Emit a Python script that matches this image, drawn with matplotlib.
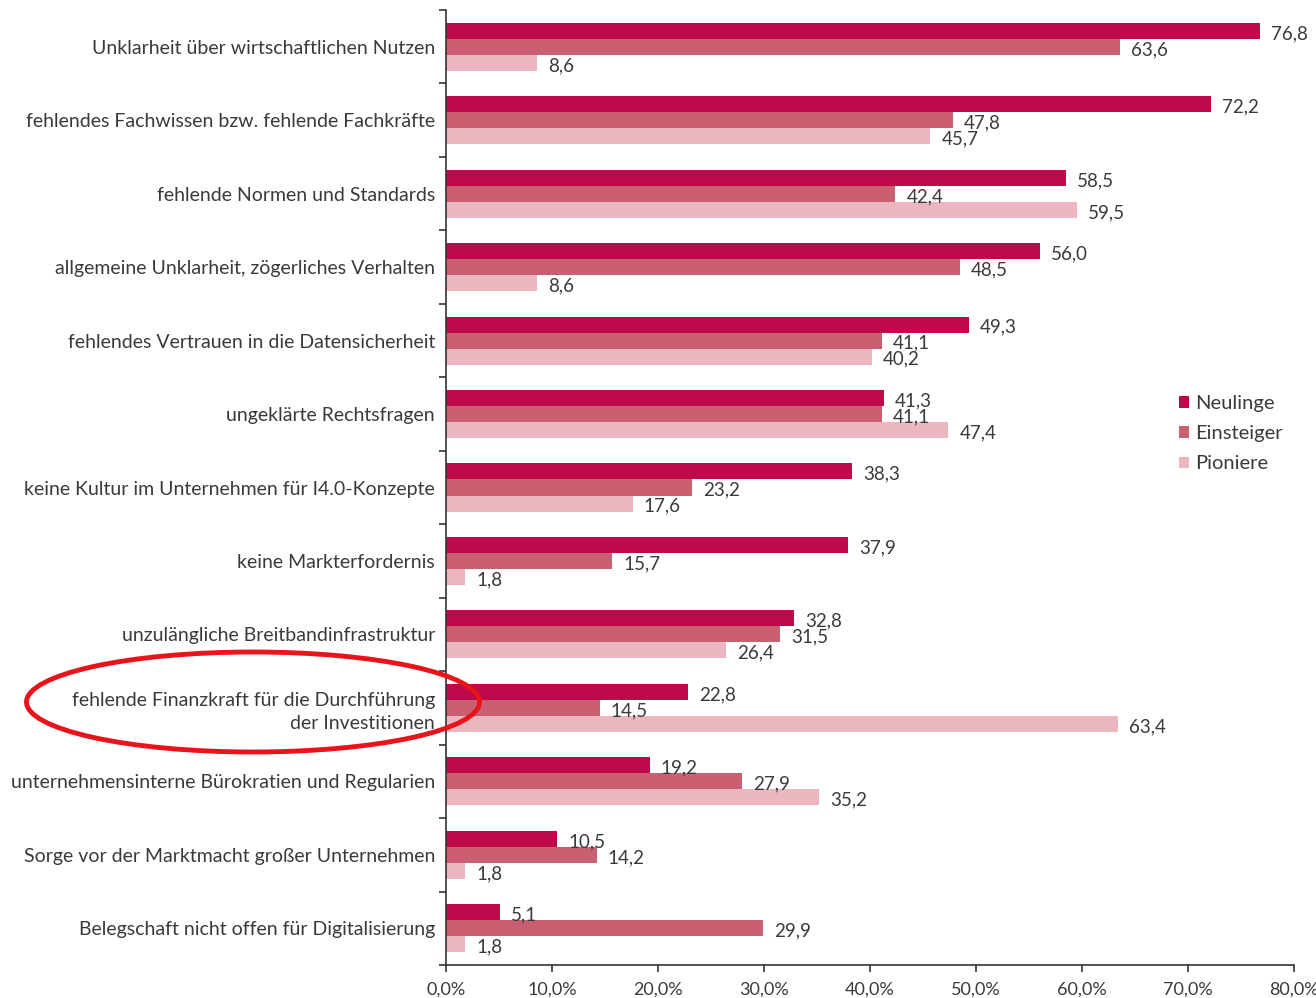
import numpy as np
import matplotlib.pyplot as plt
from matplotlib.patches import Ellipse
from matplotlib.ticker import FuncFormatter

plt.rcParams['font.family'] = ['Lato', 'DejaVu Sans']

kategorien = [
    'Unklarheit über wirtschaftlichen Nutzen',
    'fehlendes Fachwissen bzw. fehlende Fachkräfte',
    'fehlende Normen und Standards',
    'allgemeine Unklarheit, zögerliches Verhalten',
    'fehlendes Vertrauen in die Datensicherheit',
    'ungeklärte Rechtsfragen',
    'keine Kultur im Unternehmen für I4.0-Konzepte',
    'keine Markterfordernis',
    'unzulängliche Breitbandinfrastruktur',
    'fehlende Finanzkraft für die Durchführung\nder Investitionen',
    'unternehmensinterne Bürokratien und Regularien',
    'Sorge vor der Marktmacht großer Unternehmen',
    'Belegschaft nicht offen für Digitalisierung',
]
neulinge = [76.8, 72.2, 58.5, 56.0, 49.3, 41.3, 38.3, 37.9, 32.8, 22.8, 19.2, 10.5, 5.1]
einsteiger = [63.6, 47.8, 42.4, 48.5, 41.1, 41.1, 23.2, 15.7, 31.5, 14.5, 27.9, 14.2, 29.9]
pioniere = [8.6, 45.7, 59.5, 8.6, 40.2, 47.4, 17.6, 1.8, 26.4, 63.4, 35.2, 1.8, 1.8]
serien = ['Neulinge', 'Einsteiger', 'Pioniere']
farben = ['#BE0A4B', '#C95F70', '#EBB6BF']
textfarbe = '#3a3a3a'

fig = plt.figure(figsize=(13.16, 9.98), dpi=100)
ax = fig.add_axes([446 / 1316, 1 - 965 / 998, 848 / 1316, 955 / 998])

n = len(kategorien)
y = np.arange(n)
h = 0.218
for k, (werte, name, farbe) in enumerate(zip([neulinge, einsteiger, pioniere], serien, farben)):
    pos = y + (k - 1) * h
    ax.barh(pos, werte, height=h, color=farbe, label=name)
    for p, v in zip(pos, werte):
        ax.annotate(f'{v:.1f}'.replace('.', ','), (v, p), xytext=(8, -2),
                    textcoords='offset points', va='center', ha='left',
                    fontsize=13.5, color=textfarbe)

ax.set_xlim(0, 80)
ax.set_ylim(n - 0.5, -0.5)
ax.set_xticks(np.arange(0, 81, 10))
ax.xaxis.set_major_formatter(FuncFormatter(lambda v, _: f'{v:.1f}%'.replace('.', ',')))
ax.tick_params(axis='x', length=5, width=1.2, colors='#333333', labelsize=13,
               labelcolor=textfarbe, pad=7)

# Striche zwischen den Gruppen, Beschriftung in der Mitte
ax.set_yticks(np.arange(-0.5, n, 1))
ax.set_yticklabels([])
ax.set_yticks(y, minor=True)
ax.set_yticklabels(kategorien, minor=True, fontsize=14, color=textfarbe)
ax.tick_params(axis='y', which='major', length=5, width=1.2, colors='#333333')
ax.tick_params(axis='y', which='minor', length=0, pad=8)
for lbl in ax.get_yticklabels(minor=True):
    lbl.set_multialignment('right')
    lbl.set_linespacing(1.4)

for s in ['top', 'right']:
    ax.spines[s].set_visible(False)
for s in ['left', 'bottom']:
    ax.spines[s].set_color('#333333')
    ax.spines[s].set_linewidth(1.2)

leg = ax.legend(loc='upper left', bbox_to_anchor=(0.855, 0.605), frameon=False,
                fontsize=14.5, handlelength=0.5, handleheight=0.5, handletextpad=0.3,
                labelspacing=0.65, borderaxespad=0)
for t in leg.get_texts():
    t.set_color(textfarbe)

# roter Kreis um die Finanzkraft-Kategorie
ell = Ellipse((253 / 1316, 1 - 702 / 998), 453 / 1316, 100 / 998,
              transform=fig.transFigure, fill=False, edgecolor='#E8141C',
              linewidth=3.5, zorder=10)
fig.patches.append(ell)

fig.savefig('out.png', dpi=100)
